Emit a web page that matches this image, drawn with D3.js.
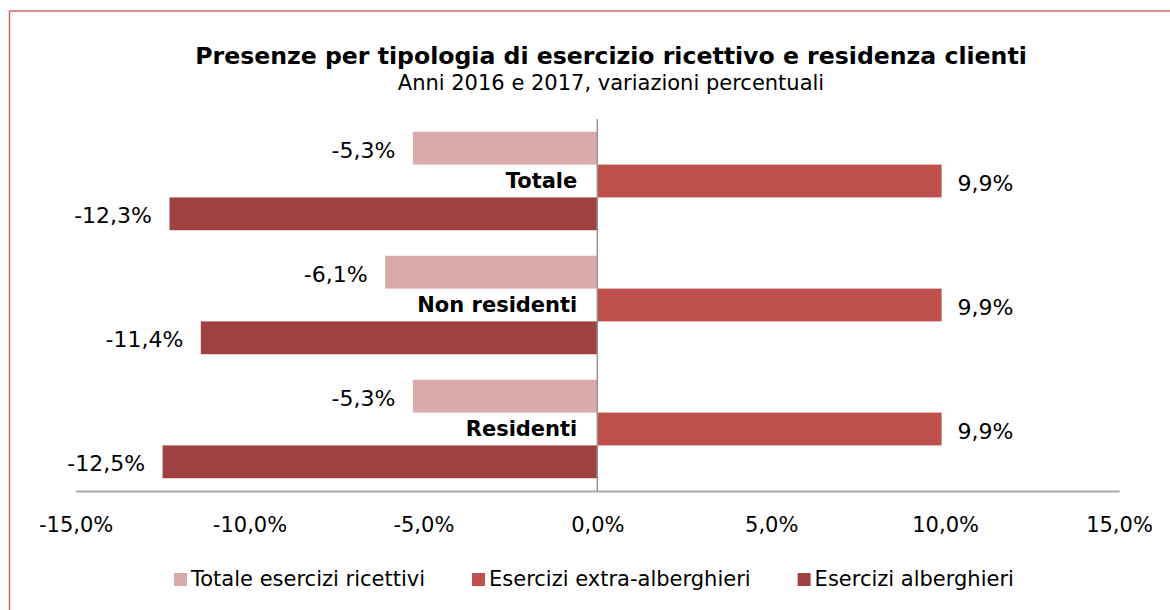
<!DOCTYPE html>
<html>
<head>
<meta charset="utf-8">
<script src="https://cdn.jsdelivr.net/npm/d3@7"></script>
<style>
  body { margin: 0; background: #fff; }
  svg { display: block; font-family: "DejaVu Sans", Verdana, sans-serif; }
</style>
</head>
<body>
<div id="chart"></div>
<script>
// categories, top to bottom as in the reference
const categories = ["Totale", "Non residenti", "Residenti"];

// series names and values (percent change 2017 vs 2016)
const seriesNames = ["Totale esercizi ricettivi", "Esercizi extra-alberghieri", "Esercizi alberghieri"];
const totaleEsercizi = [-5.3, -6.1, -5.3];
const extraAlberghieri = [9.9, 9.9, 9.9];
const alberghieri = [-12.3, -11.4, -12.5];

const tickValues = [-15, -10, -5, 0, 5, 10, 15];

const colors = ["#daa9a9", "#c0504d", "#9e4140"];

// build row table for the library
const seriesValues = [totaleEsercizi, extraAlberghieri, alberghieri];
const rows = categories.flatMap((c, i) =>
    seriesNames.map((s, j) => ({ category: c, series: s, value: seriesValues[j][i] })));

const width = 1170;
const height = 610;

// italian number format: comma decimals, plain hyphen for minus
const it = d3.formatLocale({ decimal: ",", thousands: ".", grouping: [3], currency: ["", " €"], minus: "-" });
const fmt = v => it.format(".1f")(v) + "%";

const svg = d3.select("#chart").append("svg")
    .attr("width", width)
    .attr("height", height);

// chart frame (only top and left edges fall inside the picture)
svg.append("rect")
    .attr("x", 9.5)
    .attr("y", 11)
    .attr("width", 1400)
    .attr("height", 800)
    .attr("fill", "none")
    .attr("stroke", "#d06b6b")
    .attr("stroke-width", 1.5);

// title
svg.append("text")
    .attr("x", 611)
    .attr("y", 64)
    .attr("text-anchor", "middle")
    .attr("font-weight", "bold")
    .attr("font-size", 23.6)
    .text("Presenze per tipologia di esercizio ricettivo e residenza clienti");

svg.append("text")
    .attr("x", 611)
    .attr("y", 90)
    .attr("text-anchor", "middle")
    .attr("font-size", 21)
    .text("Anni 2016 e 2017, variazioni percentuali");

// scales
const x = d3.scaleLinear()
    .domain([-15, 15])
    .range([75.6, 1119]);

const y = d3.scaleBand()
    .domain(categories)
    .range([119, 491])
    .paddingInner(0.206)
    .paddingOuter(0.103);

const ySub = d3.scaleBand()
    .domain(seriesNames)
    .range([0, y.bandwidth()]);

const color = d3.scaleOrdinal().domain(seriesNames).range(colors);

// bars
svg.append("g")
    .selectAll("rect")
    .data(rows)
    .join("rect")
    .attr("x", d => x(Math.min(0, d.value)))
    .attr("y", d => y(d.category) + ySub(d.series))
    .attr("width", d => Math.abs(x(d.value) - x(0)))
    .attr("height", ySub.bandwidth())
    .attr("fill", d => color(d.series));

// data labels
svg.append("g")
    .attr("font-size", 22)
    .selectAll("text")
    .data(rows)
    .join("text")
    .attr("x", d => d.value < 0 ? x(d.value) - 17.5 : x(d.value) + 16)
    .attr("y", d => y(d.category) + ySub(d.series) + ySub.bandwidth() / 2 + 9.5)
    .attr("text-anchor", d => d.value < 0 ? "end" : "start")
    .attr("fill", "#000")
    .text(d => fmt(d.value));

// x axis along the bottom
const xAxis = svg.append("g")
    .attr("transform", `translate(0,${y.range()[1]})`)
    .call(d3.axisBottom(x).tickValues(tickValues).tickSize(0).tickFormat(fmt));

xAxis.select(".domain")
    .attr("stroke", "#a9a9a9")
    .attr("stroke-width", 2);

xAxis.selectAll("text")
    .attr("font-family", "DejaVu Sans, Verdana, sans-serif")
    .attr("font-size", 21)
    .attr("fill", "#000")
    .attr("dy", null)
    .attr("y", 41);

// vertical axis at zero
svg.append("line")
    .attr("x1", x(0))
    .attr("x2", x(0))
    .attr("y1", y.range()[0])
    .attr("y2", y.range()[1])
    .attr("stroke", "#959595")
    .attr("stroke-width", 1.5);

// category labels left of the zero line
svg.append("g")
    .attr("font-size", 21)
    .attr("font-weight", "bold")
    .selectAll("text")
    .data(categories)
    .join("text")
    .attr("x", x(0) - 20)
    .attr("y", d => y(d) + y.bandwidth() / 2 + 7)
    .attr("text-anchor", "end")
    .text(d => d);

// legend
const legend = svg.append("g")
    .attr("transform", "translate(174,586)")
    .attr("font-size", 21);

let lx = 0;
seriesNames.forEach(name => {
    const item = legend.append("g").attr("transform", `translate(${lx},0)`);
    item.append("rect")
        .attr("x", 0)
        .attr("y", -13)
        .attr("width", 13)
        .attr("height", 13)
        .attr("fill", color(name));
    const t = item.append("text")
        .attr("x", 17)
        .attr("y", 0)
        .text(name);
    lx += 17 + t.node().getComputedTextLength() + 47;
});
</script>
</body>
</html>
